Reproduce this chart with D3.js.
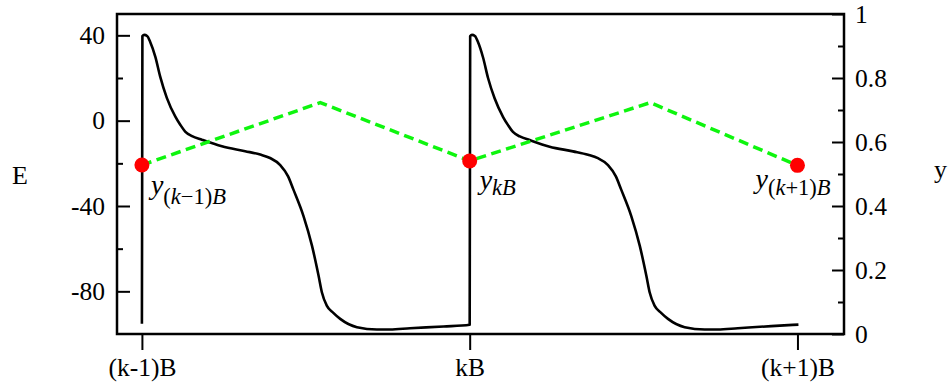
<!DOCTYPE html>
<html>
<head>
<meta charset="utf-8">
<script src="https://cdn.jsdelivr.net/npm/d3@7"></script>
<style>
  html, body { margin: 0; padding: 0; background: #fff; }
  svg { display: block; }
  text { font-family: "Liberation Serif", "Times New Roman", serif; fill: #000; }
</style>
</head>
<body>
<svg id="chart" width="948" height="386"></svg>
<script>
// Membrane potential E over two bursts, time measured in units of B
const timeB = [
  0.000, 0.0015, 0.007, 0.016, 0.025, 0.041, 0.056, 0.076, 0.102, 0.117, 0.132, 0.153,
  0.183, 0.244, 0.315, 0.361, 0.391, 0.422, 0.446, 0.462, 0.493, 0.519, 0.539, 0.549,
  0.564, 0.584, 0.605, 0.656, 0.717, 0.757, 0.818, 0.920, 1.000,
  1.0015, 1.007, 1.016, 1.025, 1.041, 1.056, 1.076, 1.102, 1.117, 1.132, 1.153,
  1.183, 1.244, 1.315, 1.361, 1.391, 1.422, 1.446, 1.462, 1.493, 1.519, 1.539, 1.549,
  1.564, 1.584, 1.605, 1.656, 1.717, 1.757, 1.818, 1.920, 2.003
];
const potentialE = [
  -95.2, 39.7, 40.2, 39.7, 37.0, 29.9, 20.5, 10.7, 1.9, -1.9, -5.1, -7.2,
  -8.9, -12.0, -14.3, -15.9, -17.5, -20.8, -26.1, -32.2, -44.7, -58.7, -72.7, -80.4,
  -86.7, -90.1, -92.9, -96.8, -97.9, -97.9, -97.3, -96.5, -95.7,
  39.7, 40.2, 39.7, 37.0, 29.5, 20.0, 10.5, 1.7, -2.1, -5.3, -7.4,
  -9.1, -12.2, -14.4, -16.0, -17.6, -20.8, -26.1, -32.2, -44.7, -58.7, -72.7, -80.4,
  -86.7, -90.1, -92.9, -96.8, -97.9, -97.9, -97.3, -96.3, -95.6
];

// Sampled output y at the burst boundaries and its intermediate maxima
const yTime = [0, 0.544, 1, 1.551, 2];
const yValue = [0.528, 0.723, 0.541, 0.723, 0.527];
const sampleTime = [0, 1, 2];
const sampleValue = [0.528, 0.541, 0.527];
const sampleSub = [["(", "k", "−1)", "B"], ["k", "B"], ["(", "k", "+1)", "B"]];

// Axis ticks and labels
const eMajor = [-80, -40, 0, 40];
const eMinor = [-60, -20, 20];
const yMajor = [0, 0.2, 0.4, 0.6, 0.8, 1];
const yMinor = [0.1, 0.3, 0.5, 0.7, 0.9];
const xTicks = [0, 1, 2];
const xTickLabels = ["(k-1)B", "kB", "(k+1)B"];

const SERIF = '"Liberation Serif", "Times New Roman", serif';
const svg = d3.select("#chart");
const W = 948, H = 386;
const m = { left: 117, right: 104, top: 14, bottom: 52 };
const x0 = m.left, x1 = W - m.right, y0 = m.top, y1 = H - m.bottom;

const x = d3.scaleLinear().domain([-0.076, 2.142]).range([x0, x1]);
const yE = d3.scaleLinear().domain([-100, 50]).range([y1, y0]);
const yY = d3.scaleLinear().domain([0, 1]).range([y1, y0]);

function styleAxis(g) {
  g.attr("font-family", SERIF).attr("font-size", 25.5);
  g.select(".domain").remove();
  g.selectAll(".tick line").attr("stroke", "#000").attr("stroke-width", 2);
  g.selectAll(".tick text").attr("font-family", SERIF).attr("font-size", 25.5).attr("fill", "#000");
}

// Left axis (E): ticks point inward
svg.append("g").attr("transform", `translate(${x0},0)`)
  .call(d3.axisLeft(yE).tickValues(eMajor).tickSizeInner(-13).tickSizeOuter(0)
    .tickPadding(12).tickFormat(d => String(d)))
  .call(styleAxis);
svg.append("g").attr("transform", `translate(${x0},0)`)
  .call(d3.axisLeft(yE).tickValues(eMinor).tickSizeInner(-6).tickSizeOuter(0).tickFormat(""))
  .call(styleAxis);

// Right axis (y)
svg.append("g").attr("transform", `translate(${x1},0)`)
  .call(d3.axisRight(yY).tickValues(yMajor).tickSizeInner(-12).tickSizeOuter(0)
    .tickPadding(11).tickFormat(d => String(d)))
  .call(styleAxis);
svg.append("g").attr("transform", `translate(${x1},0)`)
  .call(d3.axisRight(yY).tickValues(yMinor).tickSizeInner(-6).tickSizeOuter(0).tickFormat(""))
  .call(styleAxis);

// Bottom axis: ticks point outward
svg.append("g").attr("transform", `translate(0,${y1})`)
  .call(d3.axisBottom(x).tickValues(xTicks).tickSizeInner(16).tickSizeOuter(0)
    .tickPadding(8).tickFormat((d, i) => xTickLabels[i]))
  .call(styleAxis);

// Plot frame
svg.append("rect")
  .attr("x", x0).attr("y", y0).attr("width", x1 - x0).attr("height", y1 - y0)
  .attr("fill", "none").attr("stroke", "#000").attr("stroke-width", 2.5);

// Axis titles
svg.append("text").attr("x", 12).attr("y", 184).attr("font-family", SERIF)
  .attr("font-size", 26).text("E");
svg.append("text").attr("x", 934).attr("y", 178).attr("font-family", SERIF)
  .attr("font-size", 26).text("y");

// E trace (monotone interpolation keeps the vertical spikes straight)
const ePts = timeB.map((t, i) => [t, potentialE[i]]);
svg.append("path")
  .datum(ePts)
  .attr("fill", "none").attr("stroke", "#000").attr("stroke-width", 2.6)
  .attr("stroke-linejoin", "round")
  .attr("d", d3.line().x(d => x(d[0])).y(d => yE(d[1])).curve(d3.curveMonotoneX));

// y trace (dashed)
const yPts = yTime.map((t, i) => [t, yValue[i]]);
svg.append("path")
  .datum(yPts)
  .attr("fill", "none").attr("stroke", "#0ef50e").attr("stroke-width", 3.5)
  .attr("stroke-dasharray", "10,5.5")
  .attr("d", d3.line().x(d => x(d[0])).y(d => yY(d[1])));

// Samples at burst boundaries
svg.selectAll("circle.sample")
  .data(sampleTime.map((t, i) => [t, sampleValue[i]]))
  .join("circle").attr("class", "sample")
  .attr("cx", d => x(d[0])).attr("cy", d => yY(d[1])).attr("r", 7.5)
  .attr("fill", "#ff0000");

// Sample labels y_(k-1)B, y_kB, y_(k+1)B
const labelOffset = [[9, 29, 10], [10, 28, 6], [-42, 23, 7]];
sampleTime.forEach((t, i) => {
  const cx = x(t), cy = yY(sampleValue[i]);
  const [dx, dy, sub] = labelOffset[i];
  const txt = svg.append("text").attr("x", cx + dx).attr("y", cy + dy)
    .attr("font-family", SERIF).attr("font-size", 28);
  txt.append("tspan").attr("font-style", "italic").text("y");
  sampleSub[i].forEach((part, j) => {
    const ts = txt.append("tspan").attr("font-size", 22.5).text(part);
    if (j === 0) ts.attr("dy", sub);
    if (part === "k" || part === "B") ts.attr("font-style", "italic");
  });
});
</script>
</body>
</html>
